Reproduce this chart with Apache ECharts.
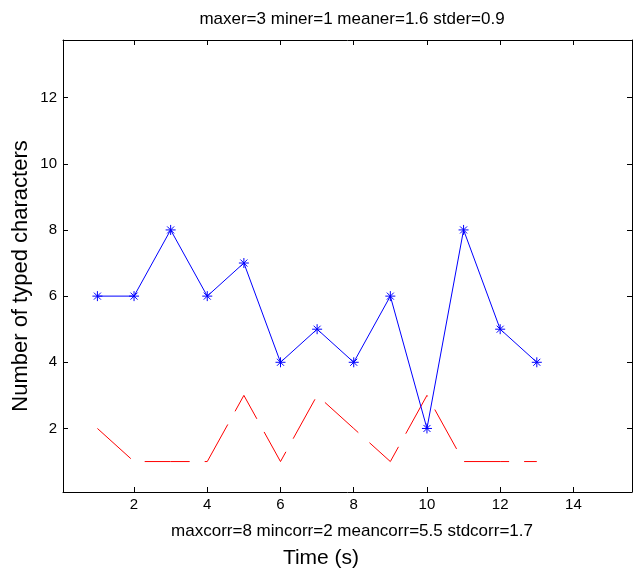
<!DOCTYPE html>
<html><head><meta charset="utf-8">
<script src="https://cdn.jsdelivr.net/npm/echarts@6/dist/echarts.min.js"></script>
<style>html,body{margin:0;padding:0;background:#fff}#c{width:635px;height:570px}</style>
</head><body><div id="c"></div>
<script>
var timeX = [1,2,3,4,5,6,7,8,9,10,11,12,13];
var typedChars = [6,6,8,6,7,4,5,4,6,2,8,5,4];
var errors = [2,1,1,1,3,1,3,2,1,3,1,1,1];
var xTicks = [2,4,6,8,10,12,14];
var yTicks = [2,4,6,8,10,12];
var topTitle = 'maxer=3 miner=1 meaner=1.6 stder=0.9';
var bottomNote = 'maxcorr=8 mincorr=2 meancorr=5.5 stdcorr=1.7';

var chart = echarts.init(document.getElementById('c'));
var FONT = 'Liberation Sans, Arial, sans-serif';
var star = 'path://M0,5L10,5M5,0L5,10M1.5,1.5L8.5,8.5M8.5,1.5L1.5,8.5';
var xr = {min: 0.06, max: 15.6};
var yr = {min: 0.08, max: 13.74};
function mkX(pos, labels) {
  return {type:'value', position:pos, min:xr.min, max:xr.max,
    axisLine:{show:true, onZero:false, lineStyle:{color:'#000', width:1}},
    axisTick:{show:true, inside:true, length:5, customValues:xTicks, lineStyle:{color:'#000'}},
    axisLabel:{show:labels, customValues:xTicks, color:'#000', fontSize:15, fontFamily:FONT, margin:5},
    splitLine:{show:false}};
}
function mkY(pos, labels) {
  return {type:'value', position:pos, min:yr.min, max:yr.max,
    axisLine:{show:true, onZero:false, lineStyle:{color:'#000', width:1}},
    axisTick:{show:true, inside:true, length:5, customValues:yTicks, lineStyle:{color:'#000'}},
    axisLabel:{show:labels, customValues:yTicks, color:'#000', fontSize:15, fontFamily:FONT, margin:6},
    splitLine:{show:false}};
}
chart.setOption({
  animation:false,
  backgroundColor:'#fff',
  grid:{left:63, right:3, top:40, bottom:78, containLabel:false},
  xAxis:[mkX('bottom', true), mkX('top', false)],
  yAxis:[mkY('left', true), mkY('right', false)],
  graphic:[
    {type:'text', style:{text:topTitle, x:352, y:19, font:'17px '+FONT, fill:'#000', align:'center', verticalAlign:'middle'}},
    {type:'text', style:{text:bottomNote, x:352, y:531, font:'17px '+FONT, fill:'#000', align:'center', verticalAlign:'middle'}},
    {type:'text', style:{text:'Time (s)', x:321, y:558, font:'21px '+FONT, fill:'#000', align:'center', verticalAlign:'middle'}},
    {type:'text', rotation:Math.PI/2, x:21, y:276, style:{text:'Number of typed characters', x:0, y:0, font:'22px '+FONT, fill:'#000', align:'center', verticalAlign:'middle'}}
  ],
  series:[
    {type:'line', data:timeX.map(function(x,i){return [x, typedChars[i]];}),
      lineStyle:{color:'#0000ff', width:1}, symbol:star, symbolSize:10, showAllSymbol:true,
      itemStyle:{color:'none', borderColor:'#0000ff', borderWidth:1}, z:3},
    {type:'line', data:timeX.map(function(x,i){return [x, errors[i]];}),
      lineStyle:{color:'#ff0000', width:1, type:[45,15]}, symbol:'none', z:2}
  ]
});
</script></body></html>
